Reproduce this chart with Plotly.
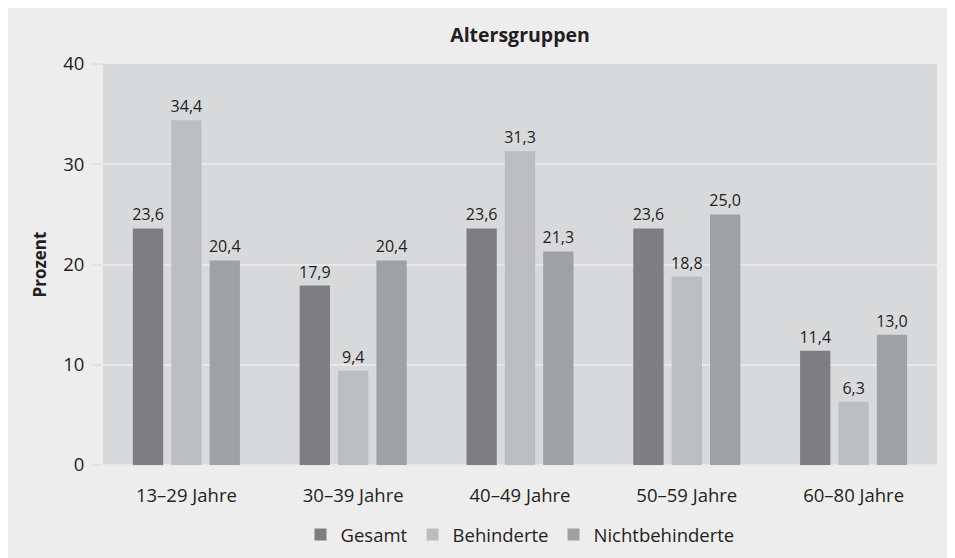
import plotly.graph_objects as go

categories = ["13–29 Jahre", "30–39 Jahre", "40–49 Jahre", "50–59 Jahre", "60–80 Jahre"]
gesamt = [23.6, 17.9, 23.6, 23.6, 11.4]
behinderte = [34.4, 9.4, 31.3, 18.8, 6.3]
nichtbehinderte = [20.4, 20.4, 21.3, 25.0, 13.0]
series_names = ["Gesamt", "Behinderte", "Nichtbehinderte"]
colors = ["#7e7e82", "#bcbdc0", "#a0a1a4"]

FONT = "Open Sans"
TXT = "#231f20"

def fmt(v):
    return f"{v:.1f}".replace(".", ",")

fig = go.Figure()
for name, vals, col in zip(series_names, [gesamt, behinderte, nichtbehinderte], colors):
    fig.add_trace(go.Bar(
        name=name, x=categories, y=vals, marker_color=col, marker_line_width=0,
        text=[fmt(v) for v in vals], textposition="outside", cliponaxis=False,
        constraintext="none",
        textfont=dict(family=FONT, size=16, color=TXT),
    ))

fig.update_layout(
    width=955, height=558,
    margin=dict(l=95, r=26, t=56, b=101),
    paper_bgcolor="#ededed", plot_bgcolor="#d8d9db",
    barmode="group", bargap=0.31, bargroupgap=0.21,
    uniformtext=dict(mode=False),
    font=dict(family=FONT, size=18, color=TXT),
    title=dict(text="<b>Altersgruppen</b>", x=0.5, xanchor="center", xref="paper",
               y=1 - 27 / 558, yanchor="middle", font=dict(family=FONT, size=19.5, color=TXT)),
    showlegend=True,
    legend=dict(orientation="h", x=0.5, xanchor="center", y=-0.1746, yanchor="middle",
                font=dict(family=FONT, size=18.5, color=TXT), traceorder="normal",
                bgcolor="rgba(0,0,0,0)"),
)
fig.update_xaxes(showgrid=False, ticks="outside", ticklen=14, tickcolor="rgba(0,0,0,0)",
                 tickfont=dict(family=FONT, size=18.5, color=TXT), showline=False)
fig.update_yaxes(range=[0, 40], dtick=10, showgrid=True, gridcolor="#e8e8ea", gridwidth=1.5,
                 zeroline=True, zerolinecolor="#e8e8ea", zerolinewidth=1.5,
                 ticks="outside", ticklen=10, tickcolor="#e2e2e4", tickwidth=1.5,
                 ticklabelstandoff=4,
                 tickfont=dict(family=FONT, size=18.5, color=TXT),
                 title=dict(text="<b>Prozent</b>", font=dict(family=FONT, size=17, color=TXT), standoff=12))

fig.write_html("out.html")
